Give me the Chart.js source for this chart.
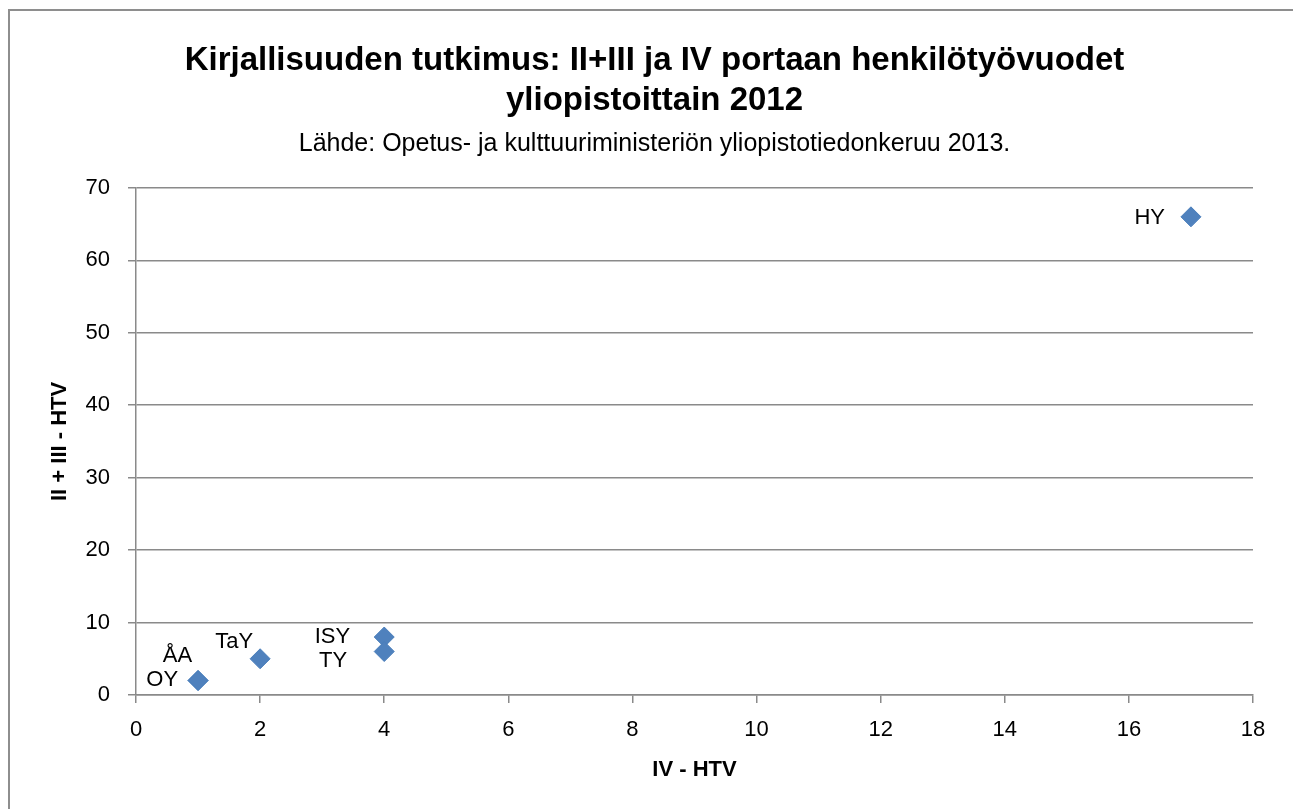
<!DOCTYPE html>
<html>
<head>
<meta charset="utf-8">
<script src="https://cdn.jsdelivr.net/npm/chart.js@4"></script>
<style>
  html, body { margin: 0; padding: 0; background: #ffffff; overflow: hidden; }
  #frame { position: absolute; left: 8px; top: 9px; width: 2000px; height: 2000px;
           border-left: 2px solid #8e8e8e; border-top: 2px solid #8e8e8e; z-index: 0; }
  #c { position: absolute; left: 0; top: 0; z-index: 1; }
</style>
</head>
<body>
<div id="frame"></div>
<canvas id="c" width="1293" height="809"></canvas>
<script>
// ---- data ----
const universities = ['HY', 'ISY', 'TY', 'TaY', 'ÅA', 'OY'];
const ivHTV = [17, 4, 4, 2, 1, 1];          // x: IV - HTV
const iiIiiHTV = [66, 8, 6, 5, 2, 2];       // y: II + III - HTV
const xTicks = [0, 2, 4, 6, 8, 10, 12, 14, 16, 18];
const yTicks = [0, 10, 20, 30, 40, 50, 60, 70];
const titleLines = ['Kirjallisuuden tutkimus: II+III ja IV portaan henkilötyövuodet', 'yliopistoittain 2012'];
const subtitleText = 'Lähde: Opetus- ja kulttuuriministeriön yliopistotiedonkeruu 2013.';
const xTitle = 'IV - HTV';
const yTitle = 'II + III - HTV';

// label placement (style): offset of right edge / vertical centre from the marker
const labelStyle = {
  'HY':  { dx: -26, dy: 1 },
  'ISY': { dx: -34, dy: 0 },
  'TY':  { dx: -37, dy: 9 },
  'TaY': { dx: -7,  dy: -17 },
  'ÅA':  { dx: -6,  dy: -25 },
  'OY':  { dx: -20, dy: -1 }
};

const FONT = "'Liberation Sans', Arial, sans-serif";
const GRID = '#8a8a8a';

const pointLabels = {
  id: 'pointLabels',
  afterDatasetsDraw(chart) {
    const meta = chart.getDatasetMeta(0);
    const ctx = chart.ctx;
    ctx.save();
    ctx.font = '22px ' + FONT;
    ctx.fillStyle = '#000000';
    ctx.textAlign = 'right';
    ctx.textBaseline = 'middle';
    meta.data.forEach((pt, i) => {
      const name = universities[i];
      const st = labelStyle[name] || { dx: -14, dy: 0 };
      ctx.fillText(name, pt.x + st.dx, pt.y + st.dy);
    });
    ctx.restore();
  }
};

const points = ivHTV.map((x, i) => ({ x: x, y: iiIiiHTV[i] }));

new Chart(document.getElementById('c'), {
  type: 'scatter',
  data: {
    datasets: [{
      label: 'Yliopistot',
      data: points,
      pointStyle: 'rectRot',
      pointRadius: 10,
      pointHoverRadius: 10,
      backgroundColor: '#4F81BD',
      borderColor: '#4A7EBB',
      borderWidth: 1
    }]
  },
  options: {
    responsive: false,
    animation: false,
    devicePixelRatio: 1,
    layout: { padding: { left: 16, right: 0, top: 0, bottom: 0 } },
    plugins: {
      legend: { display: false },
      tooltip: { enabled: false },
      title: {
        display: true,
        text: titleLines,
        color: '#000000',
        font: { family: FONT, size: 33, weight: 'bold', lineHeight: 1.24 },
        padding: { top: 40, bottom: 0 }
      },
      subtitle: {
        display: true,
        text: subtitleText,
        color: '#000000',
        font: { family: FONT, size: 25, weight: 'normal', lineHeight: 1.2 },
        padding: { top: 7, bottom: 29 }
      }
    },
    scales: {
      x: {
        type: 'linear',
        min: 0, max: 18,
        afterBuildTicks: (s) => { s.ticks = xTicks.map(v => ({ value: v })); },
        afterFit: (s) => { s.height = 114; },
        grid: { display: true, drawOnChartArea: false, drawTicks: true, tickLength: 8, color: GRID, lineWidth: 1.5 },
        border: { display: true, color: GRID, width: 1.5 },
        ticks: { color: '#000000', padding: 14, font: { family: FONT, size: 22 }, maxRotation: 0 },
        title: { display: true, text: xTitle, color: '#000000',
                 font: { family: FONT, size: 22, weight: 'bold', lineHeight: 1.2 },
                 padding: { top: 0, bottom: 26 } }
      },
      y: {
        type: 'linear',
        position: 'left',
        min: 0, max: 70,
        afterBuildTicks: (s) => { s.ticks = yTicks.map(v => ({ value: v })); },
        afterFit: (s) => { s.width = 120; },
        grid: { display: true, drawOnChartArea: true, drawTicks: true, tickLength: 8, color: GRID, lineWidth: 1.5 },
        border: { display: true, color: GRID, width: 1.5 },
        ticks: { color: '#000000', padding: 18, font: { family: FONT, size: 22 } },
        title: { display: true, text: yTitle, color: '#000000',
                 font: { family: FONT, size: 22, weight: 'bold', lineHeight: 1.2 },
                 padding: { top: 31, bottom: 0 } }
      },
      yRight: {
        type: 'linear',
        position: 'right',
        min: 0, max: 70,
        display: true,
        afterFit: (s) => { s.width = 40; },
        grid: { display: false, drawOnChartArea: false, drawTicks: false },
        border: { display: false },
        ticks: { display: false }
      }
    }
  },
  plugins: [pointLabels]
});
</script>
</body>
</html>
